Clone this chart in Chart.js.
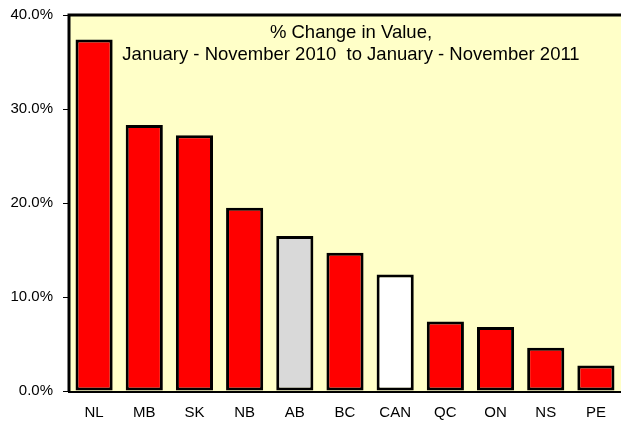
<!DOCTYPE html>
<html>
<head>
<meta charset="utf-8">
<script src="https://cdn.jsdelivr.net/npm/chart.js@4"></script>
<style>
  html, body { margin: 0; padding: 0; background: #fff; }
  #wrap { width: 621px; height: 422px; }
</style>
</head>
<body>
<div id="wrap"><canvas id="myChart" width="621" height="422"></canvas></div>
<script>
// 데이터
const labels = ['NL', 'MB', 'SK', 'NB', 'AB', 'BC', 'CAN', 'QC', 'ON', 'NS', 'PE'];
const values = [37.4, 28.3, 27.2, 19.5, 16.5, 14.7, 12.4, 7.4, 6.8, 4.6, 2.7];
const barColors = ['#ff0000', '#ff0000', '#ff0000', '#ff0000', '#d9d9d9', '#ff0000', '#ffffff', '#ff0000', '#ff0000', '#ff0000', '#ff0000'];
const titleLines = ['% Change in Value,', 'January - November 2010  to January - November 2011'];

const FONT = '"Liberation Sans", Arial, sans-serif';

// 배경 + 테두리 + 제목
const plotFrame = {
    id: 'plotFrame',
    beforeDatasetsDraw(chart) {
        const { ctx, chartArea: a } = chart;
        ctx.save();
        ctx.fillStyle = '#ffffc8';
        ctx.fillRect(a.left, a.top, a.right - a.left, a.bottom - a.top);
        ctx.strokeStyle = '#000';
        ctx.lineWidth = 3;
        ctx.beginPath();
        ctx.moveTo(a.left, a.bottom);
        ctx.lineTo(a.left, a.top);
        ctx.lineTo(a.right, a.top);
        ctx.stroke();
        ctx.fillStyle = '#000';
        ctx.font = '18.5px ' + FONT;
        ctx.textAlign = 'center';
        ctx.textBaseline = 'alphabetic';
        ctx.fillText(titleLines[0], 351, 37.5);
        ctx.fillText(titleLines[1], 351, 60);
        ctx.restore();
    }
};

const ctx = document.getElementById('myChart').getContext('2d');
const myChart = new Chart(ctx, {
    type: 'bar',
    data: {
        labels: labels,
        datasets: [{
            data: values,
            backgroundColor: barColors,
            borderColor: '#000',
            borderWidth: 3,
            borderSkipped: false,
            categoryPercentage: 1.0,
            barPercentage: 0.74
        }]
    },
    options: {
        responsive: false,
        animation: false,
        layout: { padding: { top: 15, right: 0, left: 0, bottom: 0 } },
        scales: {
            x: {
                grid: { display: false },
                border: { display: true, color: '#000', width: 3 },
                ticks: { color: '#000', font: { size: 15, family: FONT }, padding: 5 },
                afterFit(scale) { scale.height = 31; scale.paddingRight = 0; }
            },
            y: {
                min: 0,
                max: 40,
                ticks: {
                    stepSize: 10,
                    color: '#000',
                    padding: 10,
                    font: { size: 15, family: FONT },
                    callback: v => v.toFixed(1) + '%'
                },
                grid: { drawOnChartArea: false, drawTicks: true, tickLength: 6, color: '#000' },
                border: { display: true, color: '#000', width: 3 },
                afterFit(scale) { scale.width = 69; scale.paddingTop = 0; scale.paddingBottom = 0; }
            }
        },
        plugins: {
            legend: { display: false },
            tooltip: { enabled: false }
        }
    },
    plugins: [plotFrame]
});
</script>
</body>
</html>
